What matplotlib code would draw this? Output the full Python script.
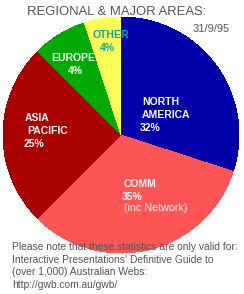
import matplotlib.pyplot as plt

# Data (slice sizes as drawn, labels as printed)
regions = ['NORTH\nAMERICA', 'COMM', 'ASIA\nPACIFIC', 'EUROPE', 'OTHER']
shares = [30, 32.5, 25, 7.5, 5]
pct_labels = ['32%', '35%', '25%', '4%', '4%']
colors = ['#0000AA', '#FF5555', '#AA0000', '#00AA00', '#FFFF55']
label_colors = ['white', 'white', 'white', 'white', '#00AAAA']

title = 'REGIONAL & MAJOR AREAS:'
date = '31/9/95'
comm_note = '(inc Network)'
footnote = ["Please note that these statistics are only valid for:",
            "Interactive Presentations' Definitive Guide to",
            "(over 1,000) Australian Webs:",
            "http://gwb.com.au/gwb/"]

FONT = ['Liberation Sans', 'DejaVu Sans']
GREY = '#555555'
W, H = 244, 294

fig = plt.figure(figsize=(W / 100, H / 100), dpi=100)
# axes in pixel units, y measured upwards; pie gets clipped at y_img = 241
ax = fig.add_axes([0, (H - 241) / H, 1, 241 / H])

def py(y_img):
    return H - y_img

ax.pie(shares, colors=colors, startangle=90, counterclock=False,
       center=(121, py(135)), radius=118,
       wedgeprops=dict(linewidth=0, antialiased=False))
ax.set_aspect('auto')
ax.set_xlim(0, W)
ax.set_ylim(py(241), H)
ax.axis('off')

# label positions (left x, baseline of first line, in image pixels)
label_pos = [(142, 105), (124, 187), (25, 121), (51, 61), (93, 38)]
pct_pos = [(140, 131), (122, 200), (24, 147), (68, 74), (100, 51)]

for name, pct, col, (lx, ly), (px, pyy) in zip(regions, pct_labels, label_colors,
                                              label_pos, pct_pos):
    for i, line in enumerate(name.split('\n')):
        ax.text(lx + (2 if line == 'PACIFIC' else 0), py(ly + 13 * i), line,
                family=FONT, fontsize=7.5, fontweight='bold', color=col,
                ha='left', va='baseline')
    ax.text(px, py(pyy), pct, family=FONT, fontsize=7.5, fontweight='bold',
            color=col, ha='left', va='baseline')

ax.text(124, py(211), comm_note, family=FONT, fontsize=7.7, color='white',
        ha='left', va='baseline')

ax.text(27, py(15), title, family=FONT, fontsize=9.4, color=GREY,
        ha='left', va='baseline')
ax.text(193, py(32), date, family=FONT, fontsize=8, color=GREY,
        ha='left', va='baseline')

for i, line in enumerate(footnote):
    ax.text(12, py(250 + 12.7 * i), line, family=FONT, fontsize=7.4, color=GREY,
            ha='left', va='baseline')

fig.savefig('out.png', dpi=100)
